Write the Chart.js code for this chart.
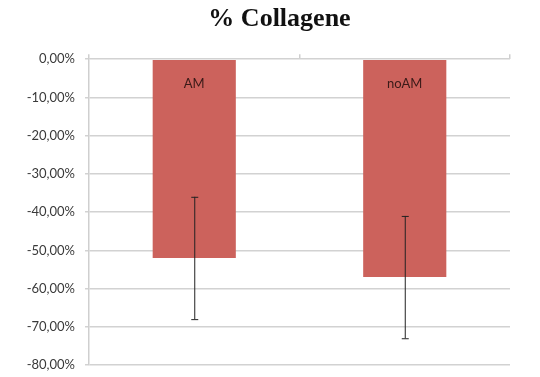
<!DOCTYPE html>
<html>
<head>
<meta charset="utf-8">
<script src="https://cdn.jsdelivr.net/npm/chart.js@4.4.1/dist/chart.umd.min.js"></script>
<style>
  html, body { margin: 0; padding: 0; background: #fff; }
  #wrap { width: 540px; height: 377px; }
</style>
</head>
<body>
<div id="wrap"><canvas id="chart"></canvas></div>
<script>
const categories = ["AM", "noAM"];
const values = [-52, -57];
const errors = [16, 16];
const yTicks = [0, -10, -20, -30, -40, -50, -60, -70, -80];

const fmt = (v) => v.toFixed(2).replace(".", ",") + "%";

// error bars + labels inside bars
const extras = {
  id: "extras",
  afterDatasetsDraw(chart) {
    const { ctx, scales } = chart;
    const x = scales.x, y = scales.y;
    ctx.save();
    categories.forEach((c, i) => {
      const cx = x.getPixelForValue(i);
      const top = y.getPixelForValue(values[i] + errors[i]);
      const bot = y.getPixelForValue(values[i] - errors[i]);
      ctx.strokeStyle = "#222";
      ctx.lineWidth = 1;
      ctx.beginPath();
      ctx.moveTo(cx + 0.5, top);
      ctx.lineTo(cx + 0.5, bot);
      ctx.moveTo(cx - 3, top + 0.5);
      ctx.lineTo(cx + 4, top + 0.5);
      ctx.moveTo(cx - 3, bot + 0.5);
      ctx.lineTo(cx + 4, bot + 0.5);
      ctx.stroke();

      ctx.fillStyle = "#3a1a18";
      ctx.font = "13px Lato";
      ctx.textAlign = "center";
      ctx.textBaseline = "middle";
      ctx.fillText(c, cx, y.getPixelForValue(0) + 25);
    });
    ctx.restore();
  }
};

new Chart(document.getElementById("chart"), {
  type: "bar",
  data: {
    labels: categories,
    datasets: [{
      data: values,
      backgroundColor: "#cc625c",
      borderWidth: 0,
      barPercentage: 0.395,
      categoryPercentage: 1
    }]
  },
  options: {
    responsive: true,
    maintainAspectRatio: false,
    animation: false,
    layout: { padding: { left: 19, right: 0, top: 0, bottom: 12 } },
    plugins: {
      legend: { display: false },
      tooltip: { enabled: false },
      title: {
        display: true,
        text: "% Collagene",
        color: "#111",
        font: { family: "Liberation Serif", size: 26, weight: "bold" },
        padding: { top: 4, bottom: 18 }
      }
    },
    scales: {
      x: {
        position: "top",
        ticks: { display: false },
        grid: { drawOnChartArea: false, drawTicks: true, tickLength: 5, color: "#cfcfcf", lineWidth: 1.5 },
        border: { display: false },
        afterFit: (s) => { s.height = 6; }
      },
      y: {
        min: -80,
        max: 0,
        afterBuildTicks: (s) => { s.ticks = yTicks.map((v) => ({ value: v })); },
        ticks: {
          callback: (v) => fmt(v),
          color: "#3a3a3a",
          font: { family: "Lato", size: 13 },
          padding: 10
        },
        grid: { color: "#d2d2d2", lineWidth: 1.5, tickLength: 4 },
        border: { color: "#cfcfcf", width: 1.5 },
        afterFit: (s) => {
          s.width = 70;
          s.paddingTop = 4;
          s.paddingBottom = 4;
        }
      },
      // empty right axis, only keeps the right margin
      yRight: {
        position: "right",
        display: true,
        ticks: { display: false },
        grid: { display: false },
        border: { display: false },
        afterFit: (s) => { s.width = 30; }
      }
    }
  },
  plugins: [extras]
});
</script>
</body>
</html>
